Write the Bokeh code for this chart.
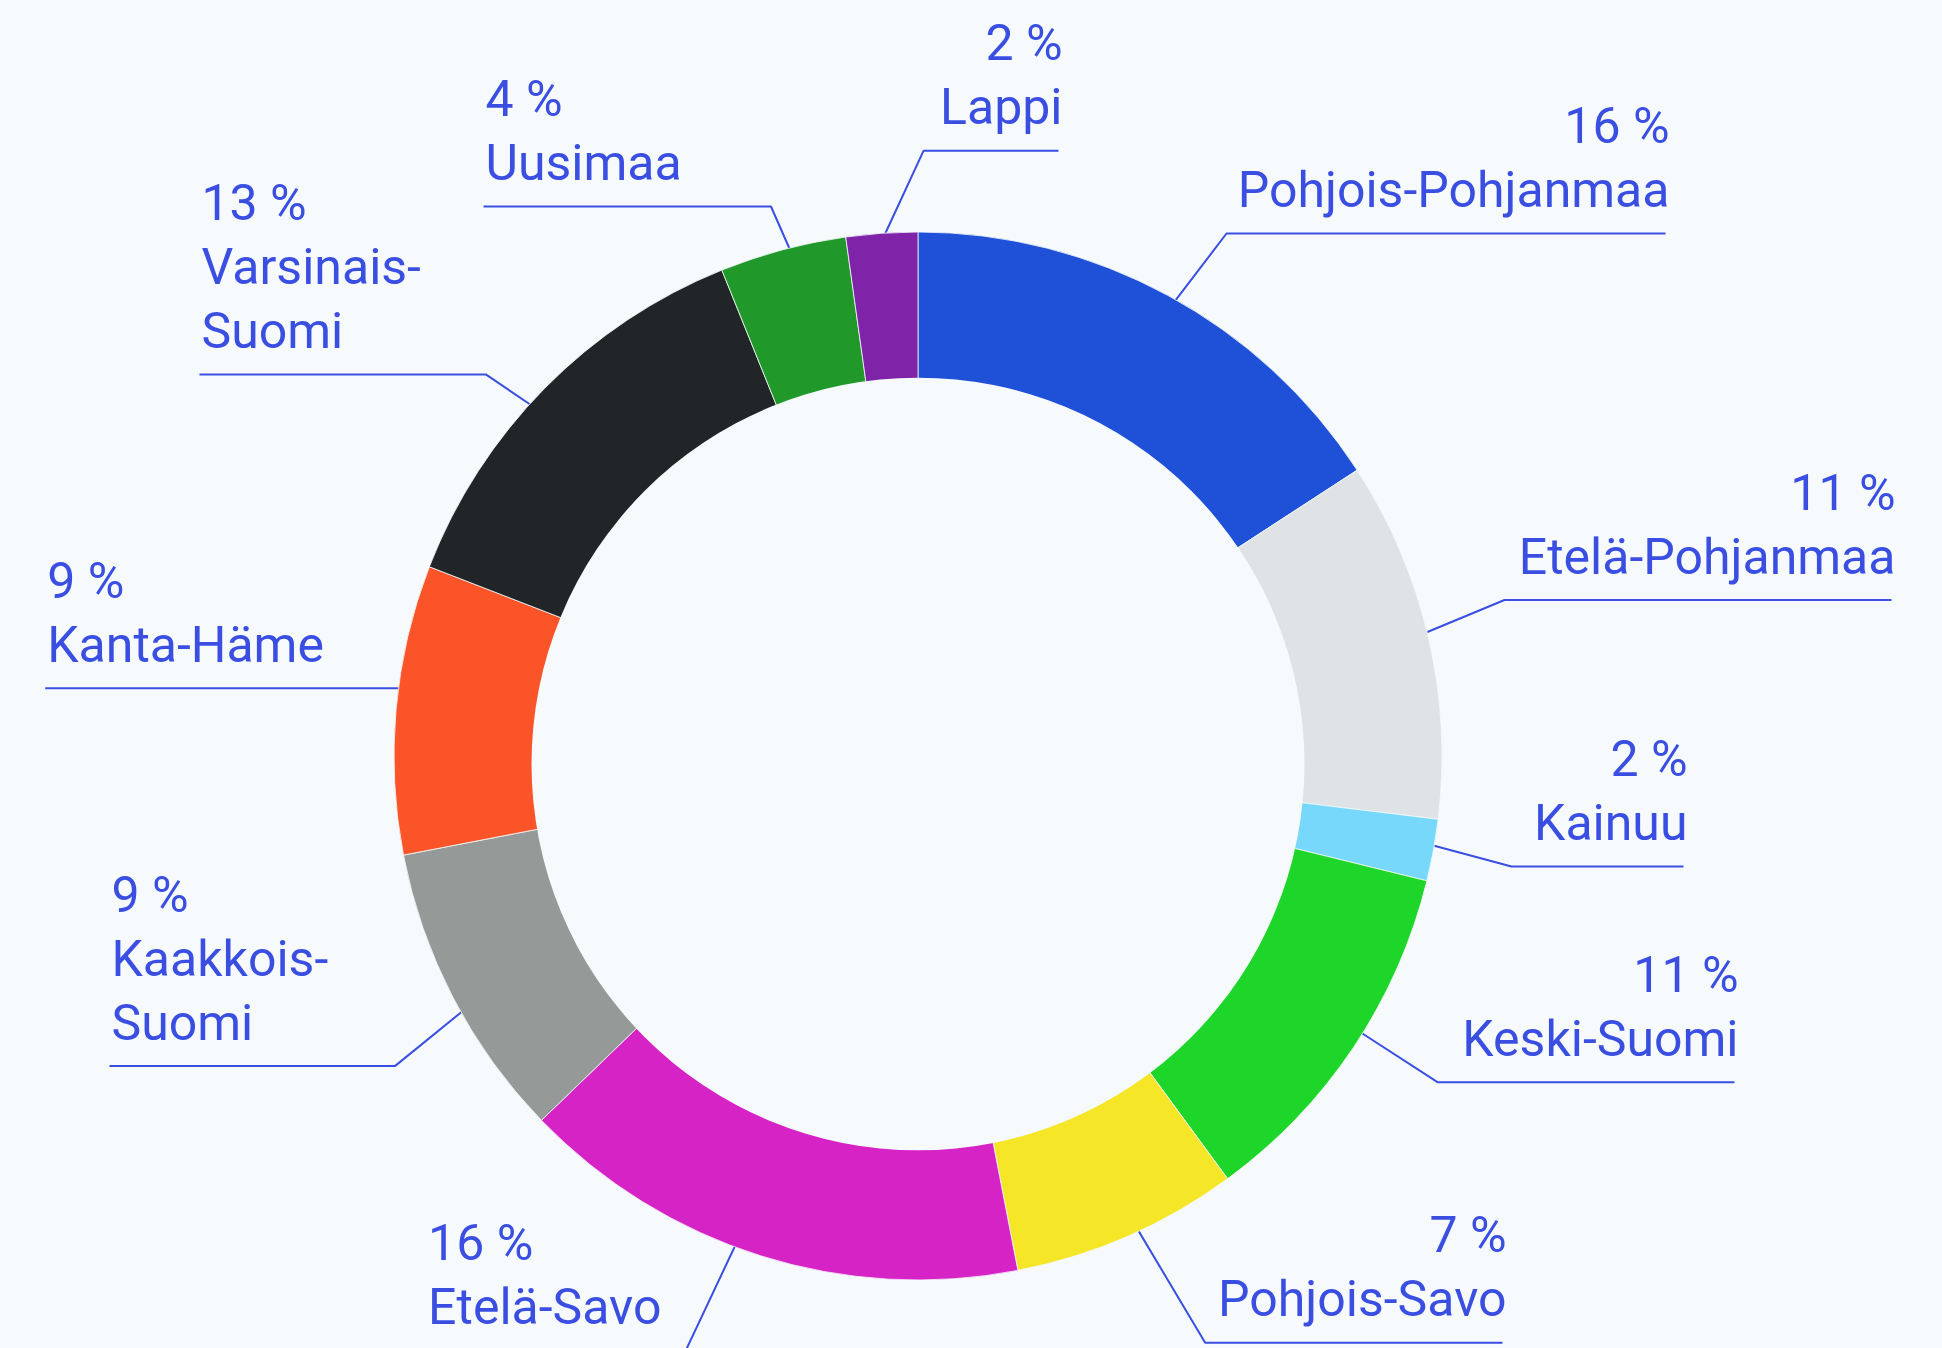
import math
from bokeh.plotting import figure
from bokeh.models import Range1d, ColumnDataSource
from bokeh.core.properties import value
from bokeh.embed import file_html
from bokeh.resources import INLINE

# ---------------- data ----------------
regions = ["Pohjois-Pohjanmaa", "Etelä-Pohjanmaa", "Kainuu", "Keski-Suomi", "Pohjois-Savo",
           "Etelä-Savo", "Kaakkois-Suomi", "Kanta-Häme", "Varsinais-Suomi", "Uusimaa", "Lappi"]
shares = [15.8, 11.1, 1.9, 11.1, 7.0, 15.8, 9.2, 8.9, 13.0, 3.9, 2.2]
colors = ["#1F50D8", "#DFE3E6", "#78D8FC", "#1ED62A", "#F5E627",
          "#D623C6", "#959998", "#FA5428", "#212528", "#21992A", "#7F23A8"]

# ---------------- layout / style ----------------
BG = "#F6FAFD"
TXT = "#3A4FE2"
W, H = 1942, 1348
OFF = 0
CX, CY = 917.5, 755.5      # ring centre, page px
R_OUT = 524
HOLE_CX, HOLE_CY, R_IN = 917.5, 763.5, 386.5
FONT = "Roboto"
FONT_SIZE = "50px"
LINE_STEP = 64
RULE_GAP = 25.5
TEXT_DY = 18               # correction of the renderer's baseline placement

label_side = ["R", "R", "R", "R", "R", "L", "L", "L", "L", "L", "R"]
label_edge_x = [1669, 1895, 1687, 1738, 1506, 427.6, 111, 46.7, 201, 485, 1062]
label_rule_y = [233, 599.5, 866, 1081.7, 1342.3, 1349.5, 1065.6, 687.7, 373.9, 206, 150.3]
label_knee_x = [1226, 1504, 1511, 1437, 1204.7, 685.5, 394.4, 482.2, 485.3, 770.5, 923]
leader_nudge_deg = [1.0, -0.6, -0.5, -1.8, -1.3, 3.0, -1.8, 0.0, -2.4, 0.75, 0.35]
wrap_after_hyphen = {"Varsinais-Suomi", "Kaakkois-Suomi"}


def X(px):
    return px - OFF


def Y(py):
    return H - (py - OFF)


p = figure(width=W, height=H, output_backend="svg", toolbar_location=None,
           x_range=Range1d(0, W), y_range=Range1d(0, H),
           x_axis_location=None, y_axis_location=None, min_border=0)
p.grid.visible = False
p.outline_line_color = None
p.background_fill_color = BG
p.border_fill_color = BG

total = sum(shares)
starts, ends, mids = [], [], []
acc = 0.0
for s in shares:
    t0 = acc / total * 2 * math.pi
    acc += s
    t1 = acc / total * 2 * math.pi
    starts.append(math.pi / 2 - t1)
    ends.append(math.pi / 2 - t0)
    mids.append((t0 + t1) / 2)

# leader lines
lx, ly = [], []
for i, name in enumerate(regions):
    th = mids[i] + math.radians(leader_nudge_deg[i])
    rx = CX + (R_OUT - 1) * math.sin(th)
    ry = CY - (R_OUT - 1) * math.cos(th)
    ky = label_rule_y[i]
    kx = label_knee_x[i]
    if label_side[i] == "R":
        far = label_edge_x[i] - 4
    else:
        far = label_edge_x[i] - 2
    lx.append([X(rx), X(kx), X(far)])
    ly.append([Y(ry), Y(ky), Y(ky)])
p.multi_line(xs=lx, ys=ly, line_color=TXT, line_width=2)

src = ColumnDataSource(dict(start=starts, end=ends, color=colors, region=regions))
p.wedge(x=X(CX), y=Y(CY), radius=R_OUT, start_angle="start", end_angle="end",
        fill_color="color", line_color=BG, line_width=0.8, source=src)
p.circle(x=[X(HOLE_CX)], y=[Y(HOLE_CY)], radius=R_IN, fill_color=BG, line_color=None)

# labels
for align in ("right", "left"):
    tx, ty, tt = [], [], []
    for i, name in enumerate(regions):
        if (label_side[i] == "R") != (align == "right"):
            continue
        pct = f"{round(shares[i] / total * 100)} %"
        if name in wrap_after_hyphen:
            a, b = name.split("-", 1)
            lines = [pct, a + "-", b]
        else:
            lines = [pct, name]
        base = label_rule_y[i] - RULE_GAP - TEXT_DY
        n = len(lines)
        for j, ln in enumerate(lines):
            tx.append(X(label_edge_x[i]))
            ty.append(Y(base - (n - 1 - j) * LINE_STEP))
            tt.append(ln)
    p.text(x=tx, y=ty, text=tt, text_align=align, text_baseline="alphabetic",
           text_color=TXT, text_font=value(FONT), text_font_size=FONT_SIZE)

html = file_html(p, INLINE, title="Maakunnat")
html = html.replace("<head>", "<head><style>html,body{background:#F6FAFD;overflow:hidden;}</style>", 1)
open("out.html", "w").write(html)
